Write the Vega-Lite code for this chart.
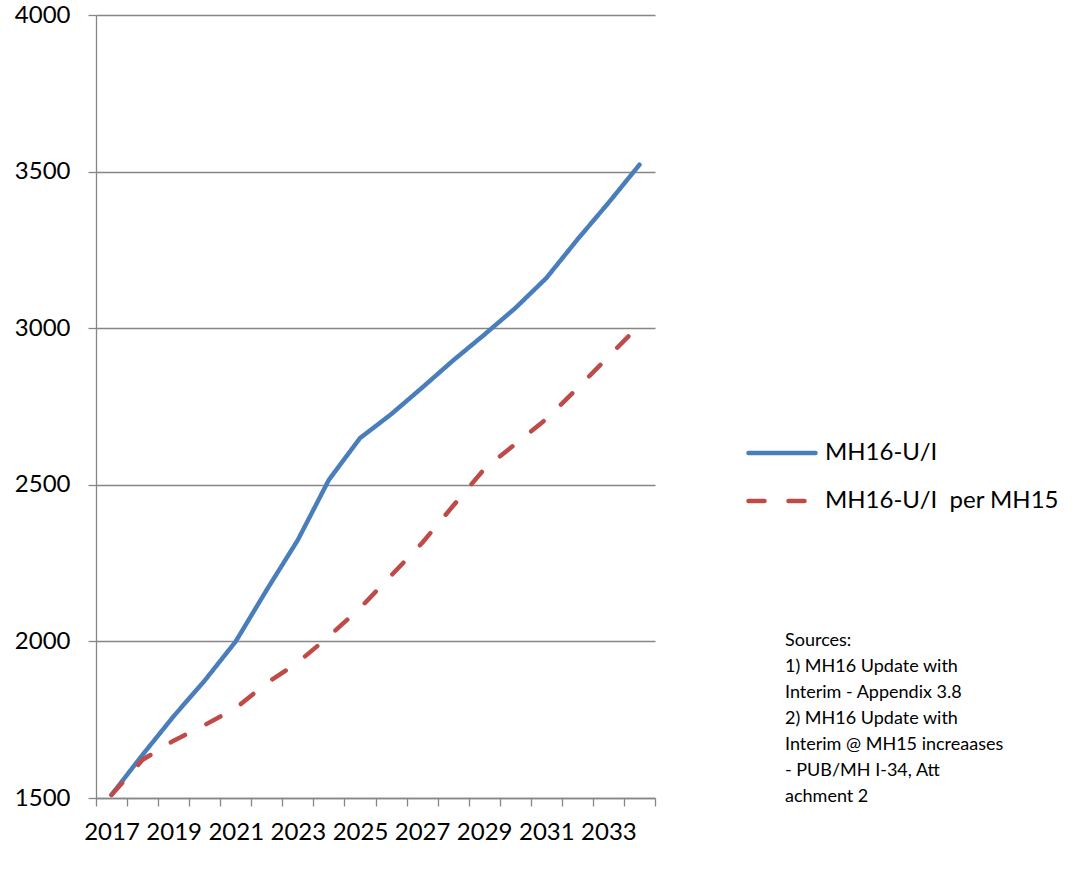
{
  "$schema": "https://vega.github.io/schema/vega-lite/v6.json",
  "width": 559,
  "height": 783,
  "autosize": {"type": "none"},
  "padding": {"left": 96, "top": 15, "right": 422, "bottom": 85},
  "background": "white",
  "title": {
    "text": [
      "Sources:",
      "1) MH16 Update with",
      "Interim - Appendix 3.8",
      "2) MH16 Update with",
      "Interim @ MH15 increaases",
      "- PUB/MH I-34, Att",
      "achment 2"
    ],
    "orient": "top",
    "anchor": "start",
    "frame": "group",
    "align": "left",
    "baseline": "top",
    "offset": 0,
    "dx": 689,
    "dy": 803,
    "font": "Lato",
    "fontSize": 18,
    "fontWeight": "normal",
    "lineHeight": 26,
    "color": "black"
  },
  "data": {
    "values": [
      {"year": 2017, "series": "MH16-U/I", "value": 1510},
      {"year": 2018, "series": "MH16-U/I", "value": 1638},
      {"year": 2019, "series": "MH16-U/I", "value": 1761},
      {"year": 2020, "series": "MH16-U/I", "value": 1875},
      {"year": 2021, "series": "MH16-U/I", "value": 2000},
      {"year": 2022, "series": "MH16-U/I", "value": 2165},
      {"year": 2023, "series": "MH16-U/I", "value": 2324},
      {"year": 2024, "series": "MH16-U/I", "value": 2516},
      {"year": 2025, "series": "MH16-U/I", "value": 2649},
      {"year": 2026, "series": "MH16-U/I", "value": 2725},
      {"year": 2027, "series": "MH16-U/I", "value": 2810},
      {"year": 2028, "series": "MH16-U/I", "value": 2897},
      {"year": 2029, "series": "MH16-U/I", "value": 2979},
      {"year": 2030, "series": "MH16-U/I", "value": 3064},
      {"year": 2031, "series": "MH16-U/I", "value": 3160},
      {"year": 2032, "series": "MH16-U/I", "value": 3283},
      {"year": 2033, "series": "MH16-U/I", "value": 3400},
      {"year": 2034, "series": "MH16-U/I", "value": 3522},
      {"year": 2017, "series": "MH16-U/I  per MH15", "value": 1510},
      {"year": 2018, "series": "MH16-U/I  per MH15", "value": 1622},
      {"year": 2019, "series": "MH16-U/I  per MH15", "value": 1683},
      {"year": 2020, "series": "MH16-U/I  per MH15", "value": 1733},
      {"year": 2021, "series": "MH16-U/I  per MH15", "value": 1787},
      {"year": 2022, "series": "MH16-U/I  per MH15", "value": 1867},
      {"year": 2023, "series": "MH16-U/I  per MH15", "value": 1933},
      {"year": 2024, "series": "MH16-U/I  per MH15", "value": 2016},
      {"year": 2025, "series": "MH16-U/I  per MH15", "value": 2106},
      {"year": 2026, "series": "MH16-U/I  per MH15", "value": 2210},
      {"year": 2027, "series": "MH16-U/I  per MH15", "value": 2314},
      {"year": 2028, "series": "MH16-U/I  per MH15", "value": 2433},
      {"year": 2029, "series": "MH16-U/I  per MH15", "value": 2550},
      {"year": 2030, "series": "MH16-U/I  per MH15", "value": 2630},
      {"year": 2031, "series": "MH16-U/I  per MH15", "value": 2710},
      {"year": 2032, "series": "MH16-U/I  per MH15", "value": 2808},
      {"year": 2033, "series": "MH16-U/I  per MH15", "value": 2909},
      {"year": 2034, "series": "MH16-U/I  per MH15", "value": 3010}
    ]
  },
  "mark": {"type": "line", "strokeWidth": 4.5, "strokeCap": "round", "strokeJoin": "round"},
  "encoding": {
    "x": {
      "field": "year",
      "type": "ordinal",
      "bandPosition": 0.5,
      "scale": {"type": "band", "paddingInner": 0, "paddingOuter": 0},
      "axis": {
        "title": null,
        "labelAngle": 0,
        "tickBand": "extent",
        "labelExpr": "datum.value % 2 == 1 ? datum.label : ''",
        "tickSize": 8,
        "labelPadding": 14,
        "grid": false
      }
    },
    "y": {
      "field": "value",
      "type": "quantitative",
      "scale": {"domain": [1500, 4000], "nice": false, "zero": false},
      "axis": {
        "title": null,
        "values": [1500, 2000, 2500, 3000, 3500, 4000],
        "format": "d",
        "tickSize": 8,
        "labelPadding": 18,
        "grid": true
      }
    },
    "color": {
      "field": "series",
      "type": "nominal",
      "scale": {"domain": ["MH16-U/I", "MH16-U/I  per MH15"], "range": ["#4A7EBB", "#BE4B48"]},
      "legend": {
        "title": null,
        "orient": "none",
        "legendX": 650,
        "legendY": 402,
        "symbolType": "stroke",
        "symbolSize": 4489,
        "symbolStrokeWidth": 4.5,
        "labelOffset": 7,
        "rowPadding": 0,
        "padding": 0,
        "labelExpr": "replace(datum.label, '  ', '\u00a0 ')",
        "encode": {"symbols": {"update": {"strokeCap": {"value": "round"}}}}
      }
    },
    "strokeDash": {
      "field": "series",
      "type": "nominal",
      "scale": {"domain": ["MH16-U/I", "MH16-U/I  per MH15"], "range": [[1, 0], [16, 24]]},
      "legend": null
    }
  },
  "config": {
    "font": "Lato",
    "view": {"stroke": null},
    "axis": {
      "labelFont": "Lato",
      "labelFontSize": 24,
      "labelColor": "black",
      "domainColor": "#868686",
      "domainWidth": 1.3,
      "tickColor": "#868686",
      "tickWidth": 1.3,
      "gridColor": "#868686",
      "gridWidth": 1.3,
      "gridOpacity": 1
    },
    "legend": {
      "labelFont": "Lato",
      "labelFontSize": 24,
      "labelColor": "black",
      "labelLimit": 400
    }
  }
}
